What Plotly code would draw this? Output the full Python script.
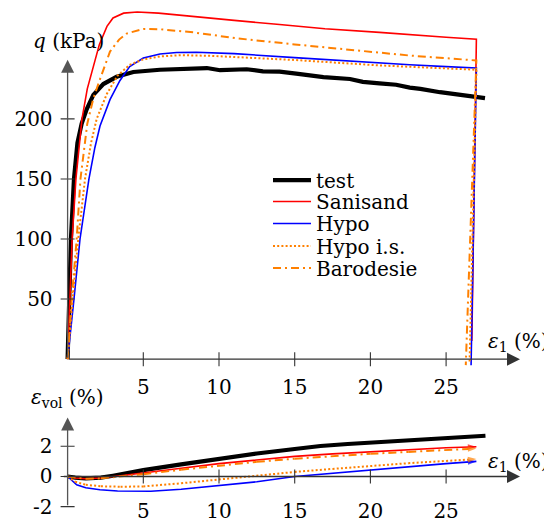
import plotly.graph_objects as go

# ---------------- data ----------------
names = ["test", "Sanisand", "Hypo", "Hypo i.s.", "Barodesie"]

# upper plot: q (kPa) vs eps1 (%)
test_e1 = [0, 0.05, 0.09, 0.22, 0.42, 0.65, 0.93, 1.26, 1.7, 2.36, 3.24, 4.34, 6.1, 8.3, 9.2,
           10.07, 11.0, 11.83, 12.9, 14.0, 15.1, 16.9, 18.65, 19.5, 20.6, 21.7, 22.6, 23.3,
           24.6, 25.7, 26.6, 27.57]
test_q = [0, 20, 50, 100, 150, 180, 196, 208, 220, 229, 235, 239, 240.9, 242, 242.3,
          240.5, 240.5, 241.3, 239.6, 239.3, 237.6, 234.8, 233.2, 230.8, 229.5, 228.4, 226, 225,
          222.2, 220.6, 218.8, 217.3]

sanisand_e1 = [0, 0.15, 0.3, 0.55, 0.95, 1.3, 1.7, 2.1, 2.6, 3.0, 3.7, 4.6, 6.0, 8.3, 11.0,
               14.0, 17.0, 20.6, 22.6, 25.0, 27.0, 26.7]
sanisand_q = [0, 50, 100, 150, 200, 225, 244, 262, 277, 284, 288, 289, 288, 285, 282,
              278.5, 275, 272, 270, 268, 266.3, 15]

hypo_e1 = [0, 0.15, 0.42, 0.82, 1.41, 1.8, 2.14, 2.8, 3.46, 4.1, 5.0, 6.1, 7.2, 8.5, 9.4,
           11.0, 15.0, 20.6, 22.6, 25.0, 27.0, 26.65]
hypo_q = [0, 20, 50, 100, 150, 176, 194, 216, 232, 243.6, 250.6, 254, 255.3, 255.5, 255.2,
          254.3, 251, 246.4, 245, 243.5, 242.3, -5]

hypois_e1 = [0, 0.12, 0.33, 0.7, 1.15, 1.55, 1.92, 2.6, 3.3, 4.1, 5.0, 6.1, 7.5, 9.4, 11.0,
             15.0, 20.6, 22.6, 25.0, 27.0, 26.55]
hypois_q = [0, 20, 50, 100, 150, 180, 200, 221, 236, 245, 249.5, 252, 253, 252.5, 251.5,
            249, 244.5, 243.6, 242, 240.9, -3]

baro_e1 = [0, 0.27, 0.6, 0.85, 1.3, 1.7, 2.14, 2.8, 3.4, 3.9, 5.0, 6.1, 8.3, 11.2, 15.0,
           20.6, 22.6, 25.0, 27.0, 26.3]
baro_q = [0, 50, 100, 150, 196, 217, 233, 256, 266, 271, 274.9, 274.6, 272, 267, 262,
          254.7, 252.7, 250.5, 248.6, -5]

# lower plot: eps_vol (%) vs eps1 (%)
test_ev_e1 = [0, 0.5, 1.2, 2.2, 3, 5, 7.5, 10, 12.5, 15, 16.7, 18.5, 20, 22.5, 25, 27.6]
test_ev = [0, -0.08, -0.12, -0.08, 0.05, 0.42, 0.8, 1.17, 1.52, 1.82, 2.02, 2.15, 2.25, 2.4, 2.55, 2.7]

sanisand_ev_e1 = [0, 0.5, 1.2, 2.2, 3.5, 5, 7.5, 10, 12.5, 15, 17.5, 20, 22.5, 25, 27]
sanisand_ev = [0, -0.1, -0.15, -0.1, 0.05, 0.25, 0.55, 0.85, 1.1, 1.33, 1.5, 1.65, 1.8, 1.9, 1.97]

hypo_ev_e1 = [0, 0.3, 0.6, 1.2, 2.14, 3.3, 4.5, 5.5, 7.5, 10, 12.5, 15, 17.5, 20, 22.5, 25, 27]
hypo_ev = [0, -0.3, -0.55, -0.75, -0.88, -0.96, -0.99, -0.98, -0.85, -0.62, -0.35, 0.0, 0.22,
           0.45, 0.65, 0.85, 1.0]

hypois_ev_e1 = [0, 0.5, 1.2, 2.2, 3.5, 5, 7.5, 10, 12.5, 15, 17.5, 20, 22.5, 25, 27]
hypois_ev = [0, -0.35, -0.55, -0.65, -0.68, -0.66, -0.45, -0.2, 0.05, 0.3, 0.5, 0.7, 0.88, 1.03, 1.15]

baro_ev_e1 = [0, 0.5, 1.2, 2.2, 3.5, 5, 7.5, 10, 12.5, 15, 17.5, 20, 22.5, 25, 27]
baro_ev = [0, -0.08, -0.15, -0.12, 0.0, 0.15, 0.45, 0.72, 0.97, 1.18, 1.35, 1.5, 1.63, 1.75, 1.85]

# tick values / labels
top_xticks = [5, 10, 15, 20, 25]
top_yticks = [50, 100, 150, 200]
bot_xticks = [5, 10, 15, 20, 25]
bot_yticks = [-2, 0, 2]
bot_yticklabels = ["-2", "0", "2"]

# ---------------- geometry (page pixels of the reference) ----------------
PAGE_W, PAGE_H = 552, 523
OFF = 8                      # default <body> margin of the html page
W, H = PAGE_W - OFF, PAGE_H - OFF
X0PX, PX_PER_E = 67.6, 15.14
Q0PY, PX_PER_Q = 360.5, 1.206
EV0PY, PX_PER_EV = 478.3, 15.15
SPLIT = 400.0


def fx(px):
    return (px - OFF) / W


def fy(py):
    return 1 - (py - OFF) / H


xrng = [(OFF - X0PX) / PX_PER_E, (PAGE_W - X0PX) / PX_PER_E]
qrng = [(Q0PY - SPLIT) / PX_PER_Q, (Q0PY - OFF) / PX_PER_Q]
evrng = [(EV0PY - PAGE_H) / PX_PER_EV, (EV0PY - SPLIT) / PX_PER_EV]
split_frac = fy(SPLIT)
yaxis_pos = fx(X0PX)

FONT = "DejaVu Serif"
RED, BLUE, ORANGE = "#ff0000", "#0000ff", "#ff8000"

styles = {
    "test": dict(color="black", width=4.2, dash="solid"),
    "Sanisand": dict(color=RED, width=1.6, dash="solid"),
    "Hypo": dict(color=BLUE, width=1.6, dash="solid"),
    "Hypo i.s.": dict(color=ORANGE, width=2.0, dash="2px,2.2px"),
    "Barodesie": dict(color=ORANGE, width=2.0, dash="8px,4px,2px,4px"),
}

top_series = {
    "test": (test_e1, test_q),
    "Sanisand": (sanisand_e1, sanisand_q),
    "Hypo": (hypo_e1, hypo_q),
    "Hypo i.s.": (hypois_e1, hypois_q),
    "Barodesie": (baro_e1, baro_q),
}
bot_series = {
    "test": (test_ev_e1, test_ev),
    "Sanisand": (sanisand_ev_e1, sanisand_ev),
    "Hypo": (hypo_ev_e1, hypo_ev),
    "Hypo i.s.": (hypois_ev_e1, hypois_ev),
    "Barodesie": (baro_ev_e1, baro_ev),
}

fig = go.Figure()
legend_ids = ["legend", "legend2", "legend3", "legend4", "legend5"]
for i, n in enumerate(names):
    x, y = top_series[n]
    fig.add_trace(go.Scatter(x=x, y=y, mode="lines", name=n, line=styles[n],
                             xaxis="x", yaxis="y", legend=legend_ids[i], showlegend=True))
for n in names:
    x, y = bot_series[n]
    if n == "test":
        fig.add_trace(go.Scatter(x=x, y=y, mode="lines", line=styles[n], showlegend=False,
                                 xaxis="x2", yaxis="y2"))
    else:
        sizes = [0] * (len(x) - 1) + [9]
        fig.add_trace(go.Scatter(x=x, y=y, mode="lines+markers", line=styles[n], showlegend=False,
                                 marker=dict(symbol="arrow", angleref="previous", size=sizes,
                                             color=styles[n]["color"], line=dict(width=0)),
                                 xaxis="x2", yaxis="y2"))

tickfont = dict(family=FONT, size=20, color="black")
common = dict(showgrid=False, zeroline=False, showline=False, ticks="", tickfont=tickfont)

legend_y_px = [180.7, 202.3, 224.3, 247.0, 269.0]
legends = {}
for lid, ypx in zip(legend_ids, legend_y_px):
    legends[lid] = dict(x=fx(268), y=fy(ypx), xanchor="left", yanchor="middle",
                        bgcolor="rgba(0,0,0,0)", font=dict(family=FONT, size=20, color="black"),
                        borderwidth=0, itemwidth=38)

AX = "#333333"
AXY = "#555555"
shapes = []
for v in top_xticks:
    shapes.append(dict(type="line", xref="x", yref="y", x0=v, x1=v, ysizemode="pixel", yanchor=0,
                       y0=-7, y1=7, line=dict(color=AX, width=1.1)))
for v in top_yticks:
    shapes.append(dict(type="line", xref="x", yref="y", y0=v, y1=v, xsizemode="pixel", xanchor=0,
                       x0=-7, x1=7, line=dict(color=AX, width=1.1)))
for v in bot_xticks:
    shapes.append(dict(type="line", xref="x2", yref="y2", x0=v, x1=v, ysizemode="pixel", yanchor=0,
                       y0=-7, y1=7, line=dict(color=AX, width=1.1)))
for v in bot_yticks:
    shapes.append(dict(type="line", xref="x2", yref="y2", y0=v, y1=v, xsizemode="pixel", xanchor=0,
                       x0=-7, x1=7, line=dict(color=AX, width=1.1)))

arrow = dict(showarrow=True, arrowhead=2, arrowsize=2.0, arrowwidth=1.3, text="", standoff=0)
annotations = [
    dict(x=(520 - X0PX) / PX_PER_E, y=0, ax=0, ay=0, xref="x", yref="y", axref="x", ayref="y",
         arrowcolor=AX, **arrow),
    dict(x=0, y=(Q0PY - 60) / PX_PER_Q, ax=0, ay=0, xref="x", yref="y", axref="x", ayref="y",
         arrowcolor=AXY, **arrow),
    dict(x=(520 - X0PX) / PX_PER_E, y=0, ax=-0.35, ay=0, xref="x2", yref="y2", axref="x2", ayref="y2",
         arrowcolor=AX, **arrow),
    dict(x=0, y=(EV0PY - 419) / PX_PER_EV, ax=0, ay=-2, xref="x2", yref="y2", axref="x2", ayref="y2",
         arrowcolor=AXY, **arrow),
]
labfont = dict(family=FONT, size=20, color="black")
annotations += [
    dict(text="<i>q</i> (kPa)", x=fx(68), y=fy(41), xref="paper", yref="paper",
         showarrow=False, font=labfont, xanchor="center", yanchor="middle"),
    dict(text="<i>ε</i><sub>1</sub> (%)", x=fx(551), y=fy(343), xref="paper", yref="paper",
         showarrow=False, font=labfont, xanchor="right", yanchor="middle"),
    dict(text="<i>ε</i><sub>1</sub> (%)", x=fx(551), y=fy(464), xref="paper", yref="paper",
         showarrow=False, font=labfont, xanchor="right", yanchor="middle"),
    dict(text="<i>ε</i><sub>vol</sub> (%)", x=fx(67), y=fy(400), xref="paper", yref="paper",
         showarrow=False, font=labfont, xanchor="center", yanchor="middle"),
]

fig.update_layout(
    width=W, height=H, margin=dict(l=0, r=0, t=0, b=0),
    paper_bgcolor="white", plot_bgcolor="rgba(0,0,0,0)",
    xaxis=dict(domain=[0, 1], range=xrng, anchor="free", position=fy(Q0PY),
               tickvals=top_xticks, ticklabelstandoff=14, **common),
    yaxis=dict(domain=[split_frac, 1], range=qrng, anchor="free", position=yaxis_pos,
               tickvals=top_yticks, ticklabelstandoff=15, **common),
    xaxis2=dict(domain=[0, 1], range=xrng, anchor="free", position=fy(484.5),
                tickvals=bot_xticks, ticklabelstandoff=14, **common),
    yaxis2=dict(domain=[0, split_frac], range=evrng, anchor="free", position=yaxis_pos,
                tickvals=bot_yticks, ticktext=bot_yticklabels, ticklabelstandoff=15, **common),
    shapes=shapes, annotations=annotations,
    **legends,
)

fig.write_html("out.html")
